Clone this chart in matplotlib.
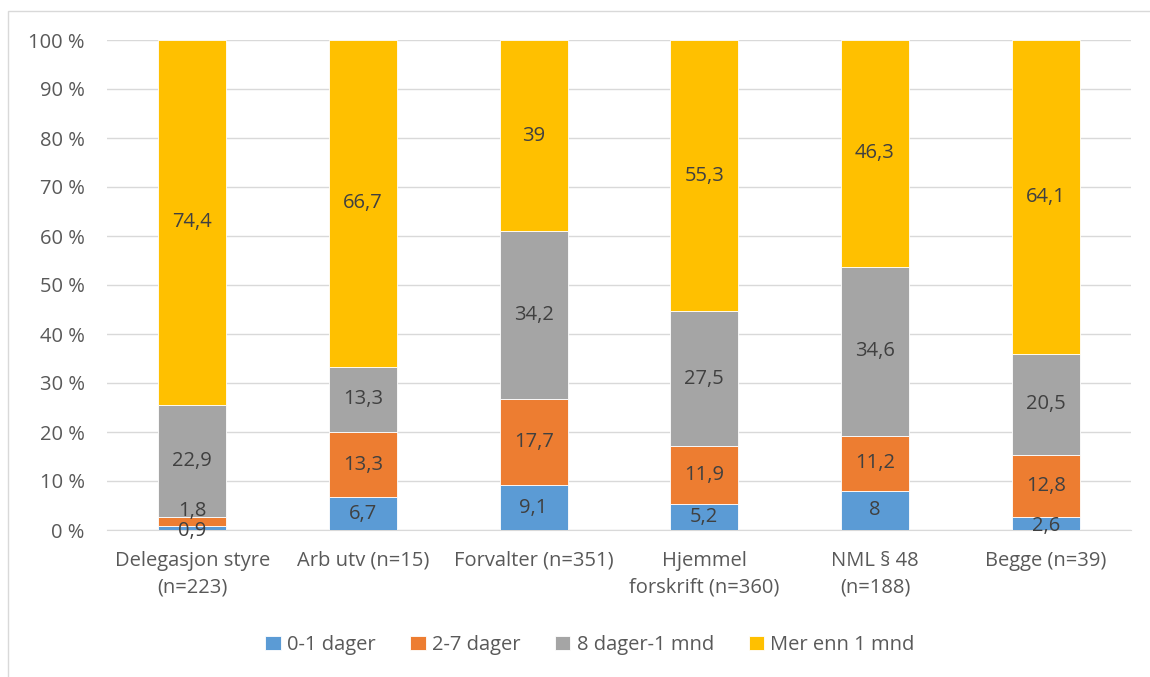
import matplotlib
matplotlib.use("Agg")
import matplotlib.pyplot as plt
from matplotlib.patches import Rectangle
import numpy as np

categories = ["Delegasjon styre\n(n=223)", "Arb utv (n=15)", "Forvalter (n=351)",
              "Hjemmel\nforskrift (n=360)", "NML § 48\n(n=188)", "Begge (n=39)"]
series_names = ["0-1 dager", "2-7 dager", "8 dager-1 mnd", "Mer enn 1 mnd"]
v_0_1 = [0.9, 6.7, 9.1, 5.2, 8, 2.6]
v_2_7 = [1.8, 13.3, 17.7, 11.9, 11.2, 12.8]
v_8_1m = [22.9, 13.3, 34.2, 27.5, 34.6, 20.5]
v_mer = [74.4, 66.7, 39, 55.3, 46.3, 64.1]
label_texts = [
    ["0,9", "6,7", "9,1", "5,2", "8", "2,6"],
    ["1,8", "13,3", "17,7", "11,9", "11,2", "12,8"],
    ["22,9", "13,3", "34,2", "27,5", "34,6", "20,5"],
    ["74,4", "66,7", "39", "55,3", "46,3", "64,1"],
]
colors = ["#5B9BD5", "#ED7D31", "#A5A5A5", "#FFC000"]

plt.rcParams['font.family'] = ['Open Sans', 'DejaVu Sans']
txt = "#595959"
fs = 14.5

fig = plt.figure(figsize=(11.5, 6.77), dpi=100)
ax = fig.add_axes([107/1150, 1 - 530/677, (1131-107)/1150, (530-40)/677])

data = np.array([v_0_1, v_2_7, v_8_1m, v_mer], dtype=float)
pct = data / data.sum(axis=0) * 100
x = np.arange(len(categories))
bottom = np.zeros(len(categories))
for i in range(4):
    ax.bar(x, pct[i], 0.4, bottom=bottom, color=colors[i], edgecolor="white",
           linewidth=0.6, label=series_names[i], zorder=3)
    for j in range(len(categories)):
        dy = 0
        if pct[i][j] < 3:
            dy = -2 if i == 0 else 7
        ax.annotate(label_texts[i][j], (x[j], bottom[j] + pct[i][j] / 2),
                    xytext=(0, dy), textcoords="offset points", ha="center",
                    va="center", fontsize=fs, color="#404040", zorder=4)
    bottom += pct[i]

ax.set_xlim(-0.5, len(categories) - 0.5)
ax.set_ylim(0, 100)
ax.set_yticks(np.arange(0, 101, 10))
ax.set_yticklabels([f"{t} %" for t in range(0, 101, 10)])
ax.set_xticks(x)
ax.set_xticklabels(categories, linespacing=1.45)
ax.tick_params(axis="both", length=0, labelsize=fs, colors=txt)
ax.tick_params(axis="y", pad=16)
ax.tick_params(axis="x", pad=15)
ax.grid(axis="y", color="#D9D9D9", linewidth=1, zorder=0)
for s in ["top", "right", "left"]:
    ax.spines[s].set_visible(False)
ax.spines["bottom"].set_color("#D9D9D9")

leg = fig.legend(loc="center", bbox_to_anchor=(590/1150, 1 - 645/677), ncol=4,
                 frameon=False, fontsize=14.5, handlelength=0.75, handleheight=0.75,
                 columnspacing=1.75, handletextpad=0.3)
for t in leg.get_texts():
    t.set_color(txt)

fig.patches.append(Rectangle((8/1150, -0.1), 1.2, 1 - 11/677 + 0.1,
                             transform=fig.transFigure, fill=False,
                             edgecolor="#D9D9D9", linewidth=1))

fig.savefig("out.png", dpi=100)
